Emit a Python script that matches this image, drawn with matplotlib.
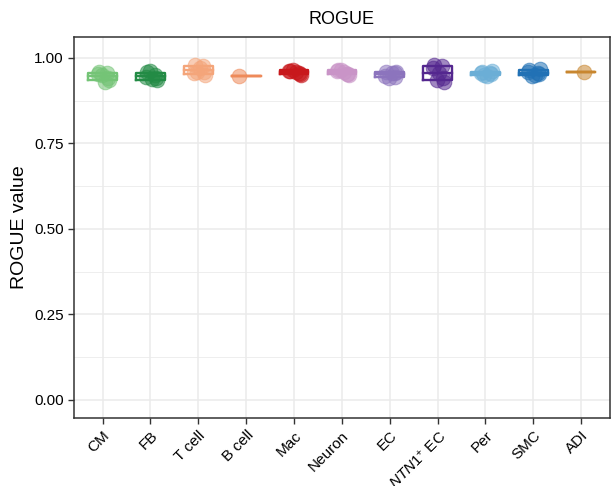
import numpy as np
import matplotlib.pyplot as plt
from matplotlib.ticker import MultipleLocator

plt.rcParams['font.family'] = ['Liberation Sans', 'DejaVu Sans']
plt.rcParams['mathtext.fontset'] = 'custom'
plt.rcParams['mathtext.rm'] = 'Liberation Sans'
plt.rcParams['mathtext.it'] = 'Liberation Sans:italic'

# cell types and their colours
cell_types = ['CM', 'FB', 'T cell', 'B cell', 'Mac', 'Neuron', 'EC',
              r'$\it{NTN1}^{+}$ EC', 'Per', 'SMC', 'ADI']
colors = ['#74c476', '#238b45', '#f4a57a', '#ee8a5a', '#c8181c', '#c994c7',
          '#8c74bd', '#54278f', '#6baed6', '#2171b5', '#c8862f']

# ROGUE values per sample
rogue_cm = [0.960, 0.955, 0.950, 0.935, 0.930, 0.952, 0.940]
rogue_fb = [0.958, 0.950, 0.962, 0.935, 0.938, 0.945, 0.940]
rogue_t = [0.980, 0.975, 0.960, 0.950, 0.970, 0.955, 0.958]
rogue_b = [0.947]
rogue_mac = [0.962, 0.955, 0.966, 0.950, 0.958, 0.962, 0.952]
rogue_neuron = [0.965, 0.952, 0.966, 0.950, 0.958, 0.962, 0.954]
rogue_ec = [0.960, 0.945, 0.940, 0.958, 0.955, 0.948, 0.956]
rogue_ntn1 = [0.980, 0.975, 0.935, 0.930, 0.955, 0.970, 0.940]
rogue_per = [0.960, 0.955, 0.950, 0.962, 0.948, 0.956, 0.953]
rogue_smc = [0.965, 0.955, 0.948, 0.968, 0.950, 0.958, 0.952]
rogue_adi = [0.958]

groups = [rogue_cm, rogue_fb, rogue_t, rogue_b, rogue_mac, rogue_neuron,
          rogue_ec, rogue_ntn1, rogue_per, rogue_smc, rogue_adi]

fig = plt.figure(figsize=(6.16, 4.86), dpi=100)
ax = fig.add_axes([0.120, 0.140, 0.870, 0.784])

box_w = 0.30
for i, (vals, col) in enumerate(zip(groups, colors)):
    x0 = i + 1
    vals = np.array(vals)
    n = len(vals)
    # deterministic spread of the points around the category
    if n == 1:
        offs = np.array([-0.15]) if i == 3 else np.array([0.05])
    else:
        offs = np.array([-0.08, 0.10, -0.02, 0.14, 0.04, -0.10, 0.12])[:n]
    m = vals.mean()
    sd = vals.std(ddof=1) if n > 1 else 0.0
    # crossbar: mean with +/- sd box, drawn under the points
    ax.plot([x0 - box_w, x0 + box_w], [m, m], color=col, lw=1.7, zorder=2)
    ax.plot([x0 - box_w, x0 + box_w, x0 + box_w, x0 - box_w, x0 - box_w],
            [m - sd, m - sd, m + sd, m + sd, m - sd],
            color=col, lw=1.7, zorder=2)
    ax.scatter(x0 + offs, vals, s=110, color=col, alpha=0.55,
               edgecolor=col, linewidth=0.8, zorder=3)

ax.set_xlim(0.4, 11.6)
ax.set_ylim(-0.0526, 1.0614)
ax.set_xticks(range(1, 12))
ax.set_xticklabels(cell_types, rotation=45, ha='right', rotation_mode='anchor',
                   fontsize=11)
ax.yaxis.set_major_locator(MultipleLocator(0.25))
ax.yaxis.set_minor_locator(MultipleLocator(0.125))
ax.set_yticklabels([f'{v:.2f}' for v in ax.get_yticks()], fontsize=11)
ax.tick_params(axis='both', which='major', length=4, width=1, color='#333333')
ax.tick_params(axis='y', which='minor', length=0)
ax.grid(True, which='major', color='#ebebeb', lw=1.1, zorder=0)
ax.grid(True, which='minor', axis='y', color='#ebebeb', lw=0.6, zorder=0)
ax.set_axisbelow(True)
for sp in ax.spines.values():
    sp.set_color('#333333')
    sp.set_linewidth(1.1)

ax.set_ylabel('ROGUE value', fontsize=14)
ax.set_title('ROGUE', fontsize=13, pad=9)

fig.savefig('out.png', dpi=100)
